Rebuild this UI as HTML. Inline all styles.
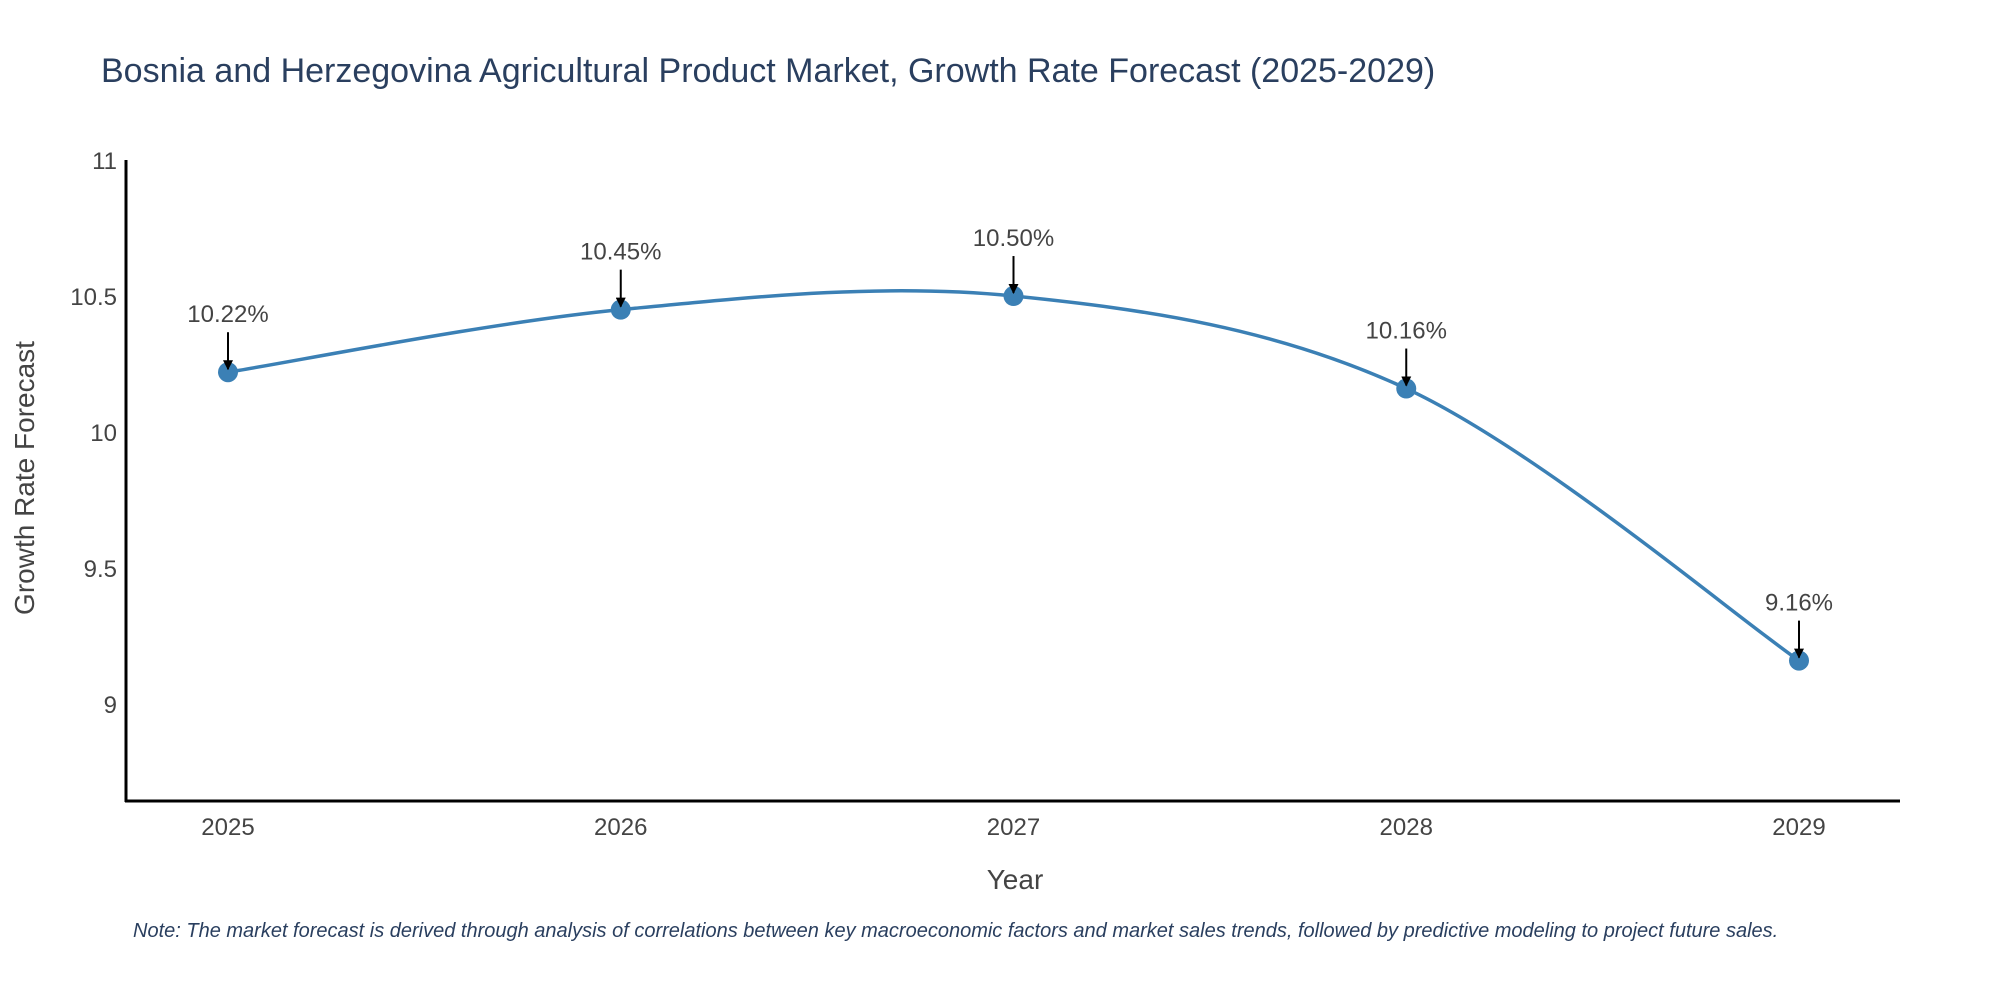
<!DOCTYPE html>
<html><head><meta charset="utf-8">
<style>
body{margin:0;background:#fff;}
svg{display:block;font-family:"Liberation Sans",sans-serif;}
</style></head>
<body>
<svg id="chart" width="2000" height="1000" viewBox="0 0 2000 1000">
<defs><marker id="ah" viewBox="0 0 10 10" refX="9" refY="5" markerWidth="5" markerHeight="5" orient="auto"><path d="M0,0 L10,5 L0,10 z" fill="#000"/></marker></defs>
<text x="101" y="82" font-size="34" fill="#2a3f5f">Bosnia and Herzegovina Agricultural Product Market, Growth Rate Forecast (2025-2029)</text>
<g id="plot"></g>
<text x="1015" y="889" font-size="28" fill="#444" text-anchor="middle">Year</text>
<text transform="translate(34,478) rotate(-90)" font-size="28" fill="#444" text-anchor="middle">Growth Rate Forecast</text>
<text x="133" y="937" font-size="20" font-style="italic" fill="#2a3f5f">Note: The market forecast is derived through analysis of correlations between key macroeconomic factors and market sales trends, followed by predictive modeling to project future sales.</text>
</svg>
<script>
const years = [2025, 2026, 2027, 2028, 2029];
const values = [10.22, 10.45, 10.50, 10.16, 9.16];
const labels = ["10.22%", "10.45%", "10.50%", "10.16%", "9.16%"];
const yTicks = [9, 9.5, 10, 10.5, 11];

const NS = "http://www.w3.org/2000/svg";
const g = document.getElementById('plot');
const x0 = 126, x1 = 1900, yTop = 160, yBot = 801;
const yMin = 8.644, yMax = 11;
const xs = v => 228 + (v - years[0]) * (1799 - 228) / (years[years.length-1] - years[0]);
const ys = v => yBot - (v - yMin) / (yMax - yMin) * (yBot - yTop);
function mk(tag, attrs){const e=document.createElementNS(NS,tag);for(const k in attrs)e.setAttribute(k,attrs[k]);g.appendChild(e);return e;}

let e = mk('line',{x1:x0,y1:yTop,x2:x0,y2:yBot+1,stroke:'#000','stroke-width':3});


e = mk('line',{x1:x0-1,y1:yBot,x2:x1,y2:yBot,stroke:'#000','stroke-width':3});



yTicks.forEach(t=>{
  const el = mk('text',{x:x0-9,y:ys(t)+9,'font-size':24,fill:'#444','text-anchor':'end'});
  el.textContent = String(t);
  
  
});
years.forEach(yr=>{
  const el = mk('text',{x:xs(yr),y:835,'font-size':24,fill:'#444','text-anchor':'middle'});
  el.textContent = String(yr);
  
  
});

const pts = years.map((yr,i)=>[xs(yr), ys(values[i])]);
let d = `M${pts[0][0]},${pts[0][1]}`;
for(let i=0;i<pts.length-1;i++){
  const p0=pts[Math.max(i-1,0)],p1=pts[i],p2=pts[i+1],p3=pts[Math.min(i+2,pts.length-1)];
  const c1=[p1[0]+(p2[0]-p0[0])/6,p1[1]+(p2[1]-p0[1])/6];
  const c2=[p2[0]-(p3[0]-p1[0])/6,p2[1]-(p3[1]-p1[1])/6];
  d+=` C${c1[0]},${c1[1]} ${c2[0]},${c2[1]} ${p2[0]},${p2[1]}`;
}
e = mk('path',{d:d,fill:'none',stroke:'#3b80b5','stroke-width':3.5});



pts.forEach((p,i)=>{
  const c = mk('circle',{cx:p[0],cy:p[1],r:10,fill:'#3b80b5'});
  
  
  const a = mk('line',{x1:p[0],y1:p[1]-40,x2:p[0],y2:p[1]-3,stroke:'#000','stroke-width':2,'marker-end':'url(#ah)'});
  
  
  const t = mk('text',{x:p[0],y:p[1]-50,'font-size':24,fill:'#444','text-anchor':'middle'});
  t.textContent = labels[i];
  
  
});
</script>
</body></html>
